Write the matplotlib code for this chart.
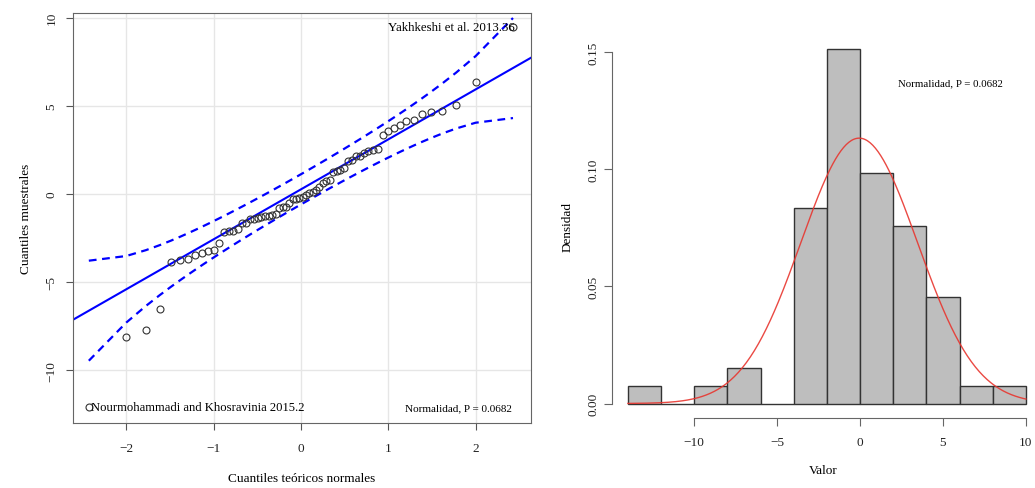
import numpy as np
import matplotlib
matplotlib.use('Agg')
import matplotlib.pyplot as plt
from statistics import NormalDist

plt.rcParams['font.family'] = ['Liberation Serif', 'DejaVu Serif']

# Sorted sample values
muestra = [-12.09, -8.13, -7.72, -6.53, -3.84, -3.76, -3.69, -3.46, -3.35, -3.25,
           -3.16, -2.78, -2.14, -2.12, -2.10, -1.98, -1.66, -1.63, -1.45, -1.40,
           -1.35, -1.31, -1.27, -1.24, -1.18, -1.12, -0.78, -0.75, -0.72, -0.50,
           -0.30, -0.26, -0.23, -0.15, -0.08, 0.05, 0.12, 0.20, 0.42, 0.62,
           0.74, 0.78, 1.22, 1.28, 1.38, 1.45, 1.85, 1.95, 2.15, 2.18,
           2.30, 2.42, 2.52, 2.56, 3.37, 3.59, 3.75, 3.92, 4.16, 4.22,
           4.52, 4.64, 4.73, 5.05, 6.37, 9.46]
etiqueta_max = "Yakhkeshi et al. 2013.36"
etiqueta_min = "Nourmohammadi and Khosravinia 2015.2"
texto_p = "Normalidad, P = 0.0682"
x_ticks_qq = [-2, -1, 0, 1, 2]
y_ticks_qq = [-10, -5, 0, 5, 10]
hist_bins = list(range(-14, 11, 2))
x_ticks_hist = [-10, -5, 0, 5, 10]
y_ticks_hist = [0.00, 0.05, 0.10, 0.15]


def lab(v):
    return f"{v}" if v >= 0 else f"\u2212{-v}"


y = np.array(muestra)
n = len(y)
nd = NormalDist()
P = (np.arange(1, n + 1) - 0.5) / n
z = np.array([nd.inv_cdf(p) for p in P])

# quartile line and 95% envelope
q1, q3 = np.percentile(y, [25, 75])
zq1, zq3 = nd.inv_cdf(0.25), nd.inv_cdf(0.75)
slope = (q3 - q1) / (zq3 - zq1)
intercept = q1 - slope * zq1
fit = intercept + slope * z
dz = np.array([nd.pdf(v) for v in z])
se = slope / dz * np.sqrt(P * (1 - P) / n)
upper = fit + 1.96 * se
lower = fit - 1.96 * se

W, H = 1035, 489
fig = plt.figure(figsize=(W / 100, H / 100), dpi=100)

# ---- QQ plot ----
ax1 = fig.add_axes([73 / W, 1 - 424 / H, (531 - 73) / W, (424 - 14) / H])
ax1.set_xlim(-2.61, 2.635)
ax1.set_ylim(-13.0, 10.27)
ax1.set_xticks(x_ticks_qq)
ax1.set_yticks(y_ticks_qq)
ax1.grid(True, color='#e6e6e6', lw=1)
ax1.set_axisbelow(True)
xx = np.array(ax1.get_xlim())
ax1.plot(xx, intercept + slope * xx, color='blue', lw=1.5)
ax1.plot(z, upper, color='blue', lw=1.6, ls=(0, (3.5, 2.5)))
ax1.plot(z, lower, color='blue', lw=1.6, ls=(0, (3.5, 2.5)))
ax1.plot(z, y, 'o', mfc='none', mec='#333333', ms=5, mew=0.8)
ax1.text(z[-1] + 0.02, y[-1], etiqueta_max, ha='right', va='center', fontsize=9.3)
ax1.text(z[0] + 0.03, y[0], etiqueta_min, ha='left', va='center', fontsize=9.1)
ax1.text(0.958, 0.038, texto_p, transform=ax1.transAxes, ha='right', va='center',
         fontsize=8)
for s in ax1.spines.values():
    s.set_color('#666666')
ax1.tick_params(colors='#555555', labelcolor='#222222', labelsize=9.5, length=5)
ax1.set_yticklabels([lab(v) for v in y_ticks_qq], rotation=90, va='center')
ax1.set_xticklabels([lab(v) for v in x_ticks_qq])
ax1.tick_params(axis='x', pad=9)
ax1.tick_params(axis='y', pad=6)
ax1.set_xlabel("Cuantiles teóricos normales", fontsize=9.5, labelpad=13)
ax1.set_ylabel("Cuantiles muestrales", fontsize=9.5, labelpad=10)

# ---- Histogram ----
ax2 = fig.add_axes([612 / W, 1 - 418.7 / H, (W - 612) / W, (418.7 - 35.6) / H])
ax2.hist(y, bins=hist_bins, density=True, color='#bebebe', edgecolor='#333333',
         lw=1.0)
xs = np.linspace(hist_bins[0], hist_bins[-1], 300)
mu, sd = y.mean(), y.std(ddof=1)
ax2.plot(xs, [NormalDist(mu, sd).pdf(v) for v in xs], color='#e8362f', lw=1.0,
         alpha=0.9)
ax2.set_xlim(-14.96, 10.55)
ax2.set_ylim(-0.00606, 0.1576)
for k in ['top', 'right']:
    ax2.spines[k].set_visible(False)
ax2.spines['bottom'].set_bounds(-10, 10)
ax2.spines['left'].set_bounds(0, 0.15)
for k in ['bottom', 'left']:
    ax2.spines[k].set_color('#666666')
ax2.set_xticks(x_ticks_hist)
ax2.set_xticklabels([lab(v) for v in x_ticks_hist])
ax2.set_yticks(y_ticks_hist)
ax2.set_yticklabels([f"{v:.2f}" for v in y_ticks_hist], rotation=90, va='center')
ax2.tick_params(colors='#666666', labelcolor='#222222', labelsize=9.5, length=6)
ax2.tick_params(axis='x', pad=7)
ax2.tick_params(axis='y', pad=3)
ax2.set_xlabel("Valor", fontsize=9.5, labelpad=12)
ax2.set_ylabel("Densidad", fontsize=9.5, labelpad=10)
ax2.text(2.29, 0.137, texto_p, fontsize=7.8, ha='left', va='center')

fig.savefig('out.png', dpi=100)
